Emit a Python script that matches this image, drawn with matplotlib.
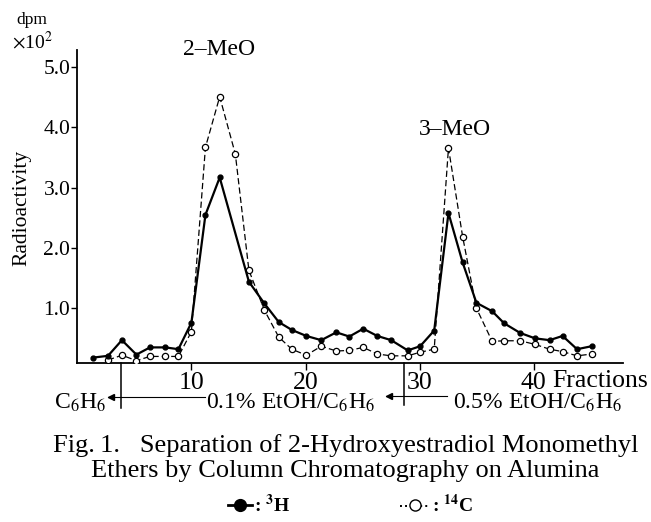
import numpy as np
import matplotlib
matplotlib.use("Agg")
import matplotlib.pyplot as plt
from matplotlib.lines import Line2D

plt.rcParams['font.family'] = ['Liberation Serif', 'DejaVu Serif']
plt.rcParams['mathtext.fontset'] = 'stix'

# ---- data ----
fraction = [1.36, 2.69, 3.91, 5.18, 6.37, 7.72, 8.86, 10.0, 11.23, 12.48,
            13.85, 15.04, 16.39, 17.66, 18.80, 20.07, 21.38, 22.70, 23.84, 25.06,
            26.29, 27.51, 28.96, 30.05, 31.28, 32.53, 33.77, 34.98, 36.36, 37.41,
            38.81, 40.12, 41.39, 42.53, 43.80, 45.09]
h3 = [0.18, 0.21, 0.47, 0.23, 0.35, 0.35, 0.32, 0.76, 2.55, 3.17,
      np.nan, 1.44, 1.08, 0.77, 0.64, 0.54, 0.47, 0.60, 0.53, 0.66,
      0.54, 0.47, 0.30, 0.37, 0.63, 2.58, 1.76, 1.09, 0.95, 0.75,
      0.59, 0.50, 0.47, 0.54, 0.32, 0.37]
c14 = [np.nan, 0.14, 0.22, 0.13, 0.20, 0.20, 0.20, 0.61, 3.67, 4.51,
       3.56, 1.63, 0.97, 0.52, 0.32, 0.22, 0.37, 0.29, 0.30, 0.35,
       0.24, 0.21, 0.21, 0.27, 0.32, 3.66, 2.19, 1.00, 0.45, 0.46,
       0.46, 0.40, 0.32, 0.28, 0.21, 0.24]
y_ticks = [1.0, 2.0, 3.0, 4.0, 5.0]
y_ticklabels = ["1.0", "2.0", "3.0", "4.0", "5.0"]
x_ticks = [10, 20, 30, 40]
x_ticklabels = ["10", "20", "30", "40"]
solvent_change = [3.86, 28.63]
peak_labels = ["2\u2013MeO", "3\u2013MeO"]
peak_pos = [(12.45, 5.30), (33.1, 3.96)]

W, H = 651, 522
fig = plt.figure(figsize=(W / 100, H / 100), dpi=100)


def fx(x):
    return x / W


def fy(y):
    return 1 - y / H


ax = fig.add_axes([fx(77.3), fy(363.3), (622.7 - 77.3) / W, (363.3 - 50) / H])
ax.set_xlim(0, 47.8)
ax.set_ylim(0.086, 5.286)
for s in ['top', 'right']:
    ax.spines[s].set_visible(False)
for s in ['left', 'bottom']:
    ax.spines[s].set_linewidth(1.3)

fr = np.array(fraction)
a = np.array(h3)
b = np.array(c14)
ma = ~np.isnan(a)
mb = ~np.isnan(b)
ax.plot(fr[mb], b[mb], color='black', lw=0.9, ls=(0, (5, 2.5)),
        marker='o', ms=4.5, mfc='white', mec='black', mew=0.9, zorder=3)
ax.plot(fr[ma], a[ma], color='black', lw=1.6, ls='-',
        marker='o', ms=3.5, mfc='black', mec='black', zorder=4)

ax.set_yticks(y_ticks)
ax.set_yticklabels(y_ticklabels, fontsize=15.5)
ax.set_xticks(x_ticks)
ax.set_xticklabels(x_ticklabels, fontsize=18.5)
ax.tick_params(axis='y', direction='out', length=4, width=1, pad=1)
ax.tick_params(axis='x', direction='out', length=5, width=1, pad=1)

for lab, (px, py) in zip(peak_labels, peak_pos):
    ax.text(px, py, lab, ha='center', va='center', fontsize=17, clip_on=False)

# solvent change boundaries
for sc, ybot in zip(solvent_change, [408, 405]):
    xpix = 77.3 + sc * (622.7 - 77.3) / 47.8
    fig.add_artist(Line2D([fx(xpix), fx(xpix)], [fy(363.3), fy(ybot)],
                          color='black', lw=1.1))

# arrows on the solvent row
for (xl, xr, yy) in [(108, 205, 397), (386, 447, 396)]:
    fig.add_artist(Line2D([fx(xl), fx(xr)], [fy(yy), fy(yy)], color='black', lw=0.8))
    tipx = xl + 3
    fig.add_artist(Line2D([fx(tipx)], [fy(yy)], marker='<', ms=4, color='black', lw=0))

fig.text(fx(552), fy(381), "Fractions", fontsize=18.5, ha='left', va='center')
fig.text(fx(80), fy(403), r"C$_6$H$_6$", fontsize=17, ha='center', va='center')
fig.text(fx(291), fy(403), r"0.1% EtOH/C$_6$H$_6$", fontsize=17, ha='center', va='center')
fig.text(fx(538), fy(403), r"0.5% EtOH/C$_6$H$_6$", fontsize=17, ha='center', va='center')

# y axis labels
fig.text(fx(32), fy(20), "dpm", fontsize=12.5, ha='center', va='center')
fig.text(fx(32), fy(42), r"$\times$10$^2$", fontsize=14, ha='center', va='center')
fig.text(fx(22), fy(208), "Radioactivity", fontsize=15.5, ha='center', va='center',
         rotation=90)

# caption
fig.text(fx(346), fy(446), "Fig.\u20091.   Separation of 2-Hydroxyestradiol Monomethyl",
         fontsize=19, ha='center', va='center')
fig.text(fx(345), fy(471), "Ethers by Column Chromatography on Alumina",
         fontsize=19, ha='center', va='center')

# legend key
yk = 505
fig.add_artist(Line2D([fx(228), fx(252)], [fy(yk), fy(yk)], color='black', lw=2))
fig.add_artist(Line2D([fx(240)], [fy(yk)], marker='o', ms=8.5, color='black', lw=0))
fig.text(fx(254), fy(yk), r": $^{\mathbf{3}}$H", fontsize=14, ha='left', va='center',
         fontweight='bold')
fig.add_artist(Line2D([fx(400), fx(430)], [fy(yk + 1), fy(yk + 1)], color='black', lw=1.4,
                      ls=(0, (1, 1.6))))
fig.add_artist(Line2D([fx(415)], [fy(yk)], marker='o', ms=8, mfc='white', mec='black',
                      mew=1, lw=0))
fig.text(fx(432), fy(yk), r": $^{\mathbf{14}}$C", fontsize=14, ha='left', va='center',
         fontweight='bold')

fig.savefig("out.png", dpi=100)
